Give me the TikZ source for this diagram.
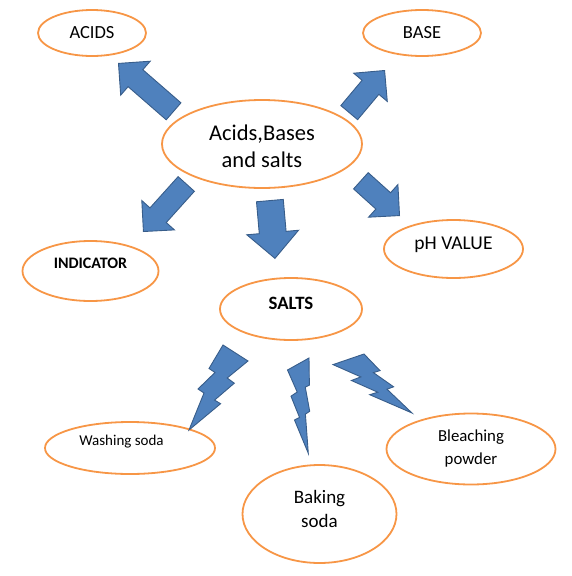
\documentclass[tikz,border=0pt]{standalone}
\usepackage{fontspec}
\setmainfont{Carlito}
\usetikzlibrary{shapes.geometric,shapes.arrows}
\definecolor{mmorange}{HTML}{F79646}
\definecolor{mmblue}{HTML}{4F81BD}
\definecolor{mmedge}{HTML}{385D8A}
\tikzset{
  bubble/.style={ellipse, draw=mmorange, line width=1.8pt, fill=white, inner sep=0pt},
  tag/.style={align=center, inner sep=0pt, text=black},
  blockarrow/.style={single arrow, anchor=tip, fill=mmblue, draw=mmedge, line width=0.9pt,
    inner xsep=0pt, inner ysep=10.5pt, single arrow tip angle=90, single arrow head extend=11pt},
  bolt/.style={fill=mmblue, draw=mmedge, line width=0.9pt},
}
\begin{document}
\begin{tikzpicture}[x=1pt, y=-1pt]
  \useasboundingbox (0,0) rectangle (571,576);
  % topic bubbles
  \node[bubble, minimum width=200pt, minimum height=88pt,
    label={[tag, font=\fontsize{22.5}{27}\selectfont, yshift=-2pt]center:{Acids,Bases\\and salts}}] (topic) at (262,144) {};
  \node[bubble, minimum width=108pt, minimum height=46pt,
    label={[tag, font=\fontsize{18.5}{22}\selectfont]center:ACIDS}] (acids) at (92,33) {};
  \node[bubble, minimum width=118pt, minimum height=46pt,
    label={[tag, font=\fontsize{18.5}{22}\selectfont]center:BASE}] (base) at (422,33) {};
  \node[bubble, minimum width=136pt, minimum height=60pt,
    label={[tag, font=\fontsize{16}{19}\selectfont\bfseries, yshift=8pt]center:INDICATOR}] (indicator) at (90.5,271) {};
  \node[bubble, minimum width=139pt, minimum height=58pt,
    label={[tag, font=\fontsize{19.5}{22}\selectfont, yshift=4pt]center:pH VALUE}] (phvalue) at (453.5,249) {};
  \node[bubble, minimum width=142pt, minimum height=62pt,
    label={[tag, font=\fontsize{18.8}{22}\selectfont\bfseries, yshift=6pt]center:SALTS}] (salts) at (291,309) {};
  \node[bubble, minimum width=170pt, minimum height=52pt,
    label={[tag, font=\fontsize{15}{18}\selectfont, xshift=-8.5pt, yshift=6pt]center:Washing soda}] (washing) at (130,448) {};
  \node[bubble, minimum width=154pt, minimum height=98pt,
    label={[tag, font=\fontsize{19}{24}\selectfont, yshift=5pt]center:{Baking\\soda}}] (baking) at (319.5,514) {};
  \node[bubble, minimum width=169pt, minimum height=71pt,
    label={[tag, font=\fontsize{16.8}{23}\selectfont]center:{Bleaching\\powder}}] (bleaching) at (471,449) {};
  % block arrows from the topic
  \node[blockarrow, rotate=139, minimum height=73pt, minimum width=45pt] (toacids) at (118,63) {};
  \node[blockarrow, rotate=50, minimum height=55pt, minimum width=42pt] (tobase) at (385,70) {};
  \node[blockarrow, rotate=228, minimum height=64pt, minimum width=42pt] (toindicator) at (143,232) {};
  \node[blockarrow, rotate=-85, minimum height=58pt, minimum width=51pt,
    inner ysep=13pt, single arrow head extend=12.5pt] (tosalts) at (275,259) {};
  \node[blockarrow, rotate=-42, minimum height=52pt, minimum width=43pt] (tophvalue) at (400,216) {};
  % lightning bolts below SALTS
  \draw[bolt] (223,345) -- (209,368.5) -- (215,372.5) -- (198,389) -- (204,393)
    -- (189,430) -- (220.6,403.7) -- (214.6,400.1) -- (234.3,383.2) -- (227.2,378)
    -- (248,361) -- cycle;
  \draw[bolt] (309,358) -- (309.4,385.1) -- (305.3,387.2) -- (309.7,411.3) -- (305.4,414.1)
    -- (308.3,453.3) -- (294.5,420) -- (299.5,417.4) -- (291,396.2) -- (297.2,392)
    -- (287.5,370) -- cycle;
  \draw[bolt] (364,354) -- (380,370.6) -- (373.4,372.6) -- (393.6,386.8) -- (387,389.2)
    -- (412,413) -- (369.7,394.7) -- (377.7,392.2) -- (351.4,380.5) -- (360.8,376.9)
    -- (333,364.6) -- cycle;
\end{tikzpicture}
\end{document}
